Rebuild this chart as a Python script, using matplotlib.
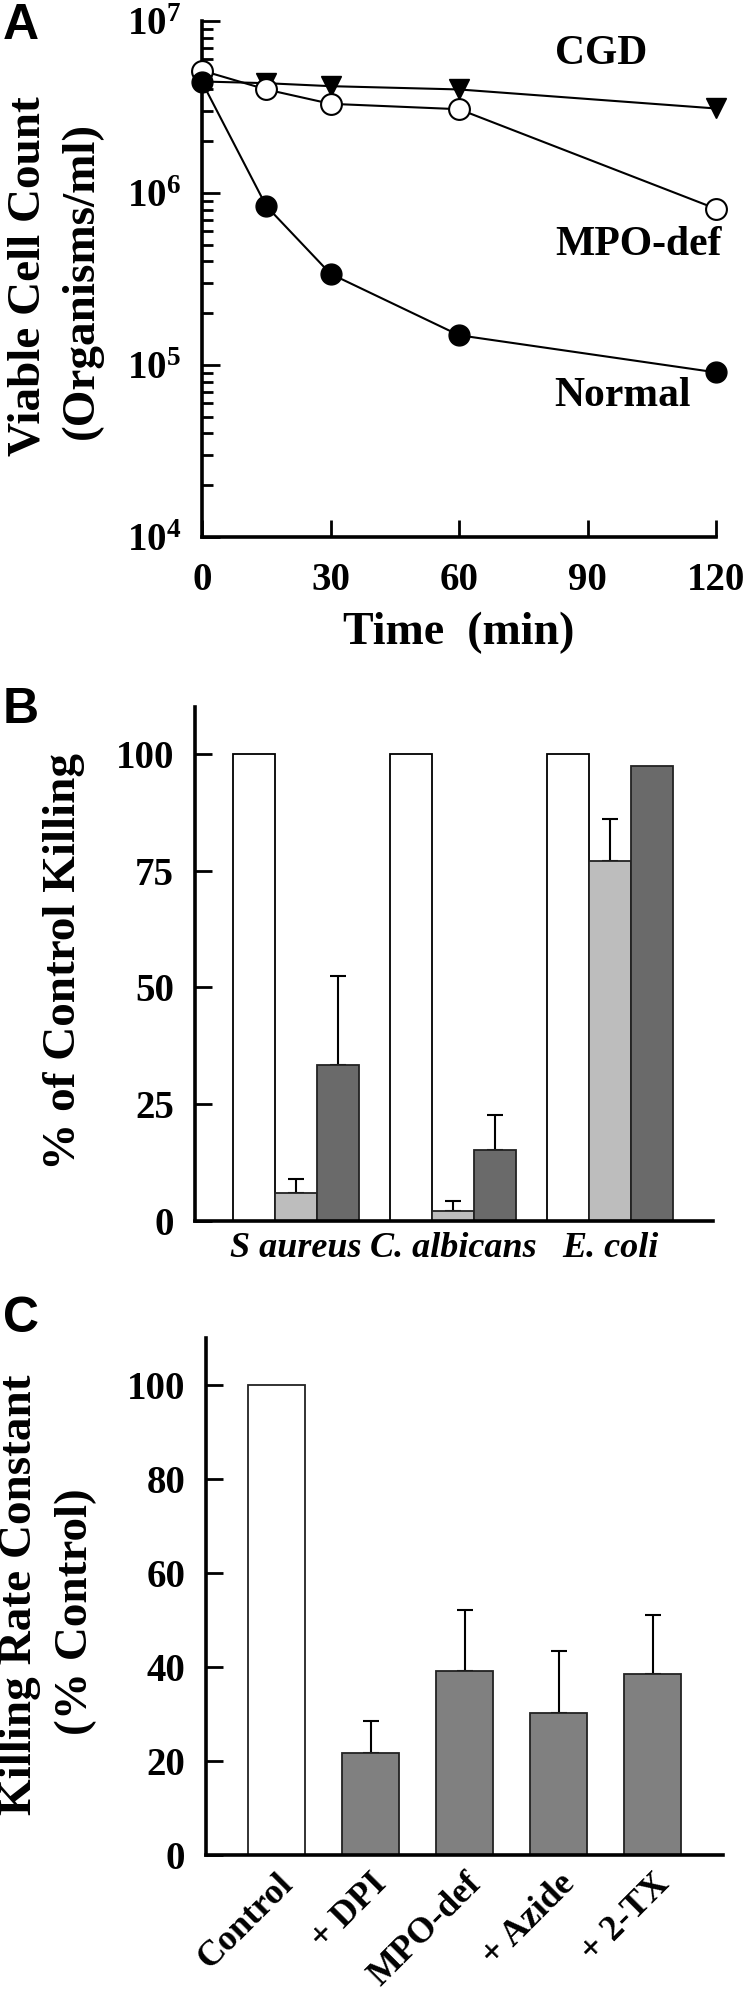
import matplotlib
matplotlib.use('Agg')
import matplotlib.pyplot as plt
import numpy as np

plt.rcParams['font.family'] = ['Liberation Serif', 'DejaVu Serif']
plt.rcParams['font.weight'] = 'bold'
plt.rcParams['mathtext.fontset'] = 'custom'
plt.rcParams['mathtext.rm'] = 'Liberation Serif:bold'
plt.rcParams['mathtext.bf'] = 'Liberation Serif:bold'
plt.rcParams['mathtext.it'] = 'Liberation Serif:italic:bold'

# ---- panel A data: viable cell count vs time
times = [0, 15, 30, 60, 120]
normal = [4.42e6, 8.4e5, 3.39e5, 1.49e5, 9.06e4]
mpo_def = [5.15e6, 4.0e6, 3.3e6, 3.07e6, 8.1e5]
cgd = [4.45e6, 4.35e6, 4.18e6, 4.0e6, 3.1e6]

# ---- panel B data: % of control killing
organisms = ['S aureus', 'C. albicans', 'E. coli']
ctrl_b = [100, 100, 100]
light_b = [6.0, 2.2, 77.1]
light_err = [3.0, 2.1, 9.0]
dark_b = [33.4, 15.1, 97.4]
dark_err = [19.0, 7.5, 0]

# ---- panel C data: killing rate constant
conditions = ['Control', '+ DPI', 'MPO-def', '+ Azide', '+ 2-TX']
rate = [100, 21.8, 39.1, 30.3, 38.5]
rate_err = [0, 6.8, 13.0, 13.1, 12.6]

W, H = 750., 1991.
fig = plt.figure(figsize=(7.5, 19.91), dpi=100)

def ax_at(l, t, r, b):
  return fig.add_axes([l / W, 1 - b / H, (r - l) / W, (b - t) / H])

def style(ax):
  for s in ['top', 'right']:
    ax.spines[s].set_visible(False)
  for s in ['left', 'bottom']:
    ax.spines[s].set_linewidth(2.6)
  ax.tick_params(which='major', direction='in', length=12, width=2,
                 labelsize=28, pad=15)

''' Panel A '''
axA = ax_at(202, 21, 716, 537)
axA.plot(times, cgd, '-v', color='black', lw=1.5, ms=15, clip_on=False, zorder=3)
axA.plot(times, mpo_def, '-o', color='black', mfc='white', mec='black', mew=1.5,
         lw=1.5, ms=15, clip_on=False, zorder=4)
axA.plot(times, normal, '-o', color='black', lw=1.5, ms=15, clip_on=False, zorder=5)
axA.set_yscale('log')
axA.set_ylim(1e4, 1e7)
axA.set_xlim(0, 120)
style(axA)
axA.set_xticks([0, 30, 60, 90, 120])
axA.set_yticks([1e4, 1e5, 1e6, 1e7])
axA.set_yticklabels([r'$\mathbf{10^{4}}$', r'$\mathbf{10^{5}}$',
                     r'$\mathbf{10^{6}}$', r'$\mathbf{10^{7}}$'])
axA.tick_params(axis='x', pad=18)
axA.tick_params(axis='y', which='minor', direction='in', length=8, width=2)
axA.tick_params(axis='y', which='major', length=13)
axA.text(93.2, 6.43e6, 'CGD', fontsize=30, ha='center', va='center')
axA.text(102, 4.99e5, 'MPO-def', fontsize=30, ha='center', va='center')
axA.text(98.1, 6.61e4, 'Normal', fontsize=30, ha='center', va='center')
fig.text(459 / W, 1 - 633 / H, 'Time  (min)', fontsize=33, ha='center', va='center')
fig.text(29 / W, 1 - 276 / H, 'Viable Cell Count', fontsize=34, rotation=90,
         ha='center', va='center')
fig.text(82 / W, 1 - 280 / H, '(Organisms/ml)', fontsize=34, rotation=90,
         ha='center', va='center')

''' Panel B '''
axB = ax_at(195, 707, 713, 1221)
xb = np.arange(len(organisms))
w = 0.266
axB.bar(xb - w, ctrl_b, w, color='white', edgecolor='black', lw=1.3, zorder=2)
axB.bar(xb, light_b, w, color='#bdbdbd', edgecolor='#222222', lw=1.3, zorder=2)
axB.bar(xb + w, dark_b, w, color='#6a6a6a', edgecolor='#222222', lw=1.3, zorder=2)
for i in range(len(xb)):
  if light_err[i] > 0:
    axB.errorbar(xb[i], light_b[i], yerr=[[0], [light_err[i]]], color='black',
                 lw=1.5, capsize=6, capthick=1.5, zorder=1)
  if dark_err[i] > 0:
    axB.errorbar(xb[i] + w, dark_b[i], yerr=[[0], [dark_err[i]]], color='black',
                 lw=1.5, capsize=6, capthick=1.5, zorder=1)
axB.set_xlim(-0.643, 2.656)
axB.set_ylim(0, 110)
style(axB)
axB.set_yticks([0, 25, 50, 75, 100])
axB.set_xticks(xb)
axB.set_xticklabels(organisms, style='italic', fontsize=26)
axB.tick_params(axis='x', length=0, pad=8)
fig.text(64 / W, 1 - 961 / H, '% of Control Killing', fontsize=34, rotation=90,
         ha='center', va='center')

''' Panel C '''
axC = ax_at(206, 1338, 723, 1855)
xc = np.arange(len(conditions))
colsC = ['white'] + ['#808080'] * (len(conditions) - 1)
for i in range(len(xc)):
  if rate_err[i] > 0:
    axC.errorbar(xc[i], rate[i], yerr=[[0], [rate_err[i]]], color='black',
                 lw=1.5, capsize=6, capthick=1.5, zorder=1)
axC.bar(xc, rate, 0.617, color=colsC, edgecolor='#222222', lw=1.3, zorder=2)
axC.set_xlim(-0.75, 4.75)
axC.set_ylim(0, 110)
style(axC)
axC.set_yticks([0, 20, 40, 60, 80, 100])
axC.set_xticks(xc)
axC.set_xticklabels(conditions, rotation=45, ha='right', rotation_mode='anchor',
                    fontsize=26)
axC.tick_params(axis='x', length=0, pad=9)
fig.text(20 / W, 1 - 1595 / H, 'Killing Rate Constant', fontsize=34, rotation=90,
         ha='center', va='center')
fig.text(76 / W, 1 - 1612 / H, '(% Control)', fontsize=34, rotation=90,
         ha='center', va='center')

# panel letters
for lab, ytop in [('A', 3), ('B', 687), ('C', 1296)]:
  fig.text(3 / W, 1 - ytop / H, lab, fontsize=36, family='Liberation Sans',
           fontweight='bold', ha='left', va='top')

fig.savefig('out.png', dpi=100)
